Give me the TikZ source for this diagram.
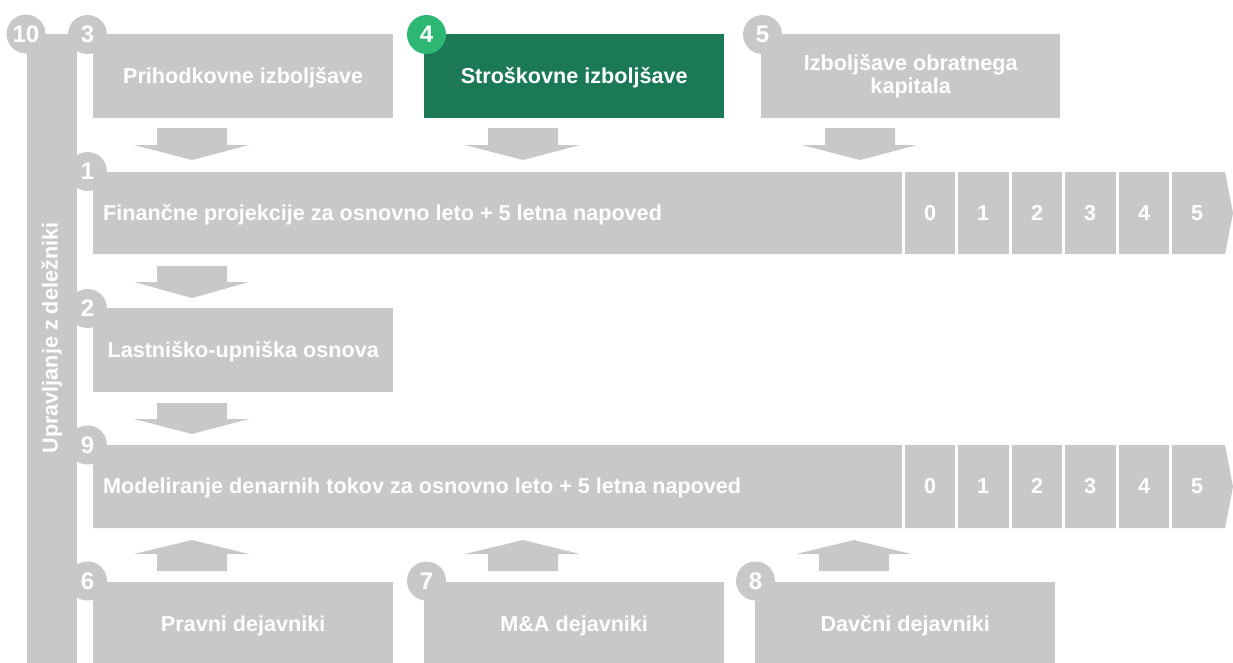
\documentclass[tikz,border=0pt]{standalone}
\usepackage{fontspec}
\setmainfont{Liberation Sans}
\definecolor{boxgray}{RGB}{200,200,200}
\definecolor{dkgreen}{RGB}{27,122,85}
\definecolor{ltgreen}{RGB}{44,184,114}
\newcommand\lblfont{\fontsize{21.6}{23}\selectfont\bfseries}
\newcommand\badgefont{\fontsize{24}{26}\selectfont\bfseries}
\newcommand\blkdown[4]{\fill[boxgray] (#1,#2) -- (#1+70,#2) -- (#1+70,#3) -- (#1+92,#3) -- (#1+35,#4) -- (#1-23,#3) -- (#1,#3) -- cycle;}
\begin{document}
\begin{tikzpicture}[x=1pt,y=-1pt,
  boxbase/.style={fill=boxgray, inner sep=0pt, minimum width=300pt, minimum height=84pt,
    anchor=north west, text=white, font=\lblfont, align=center},
  box/.style={boxbase, text height=16pt, text depth=2pt},
  badge/.style={circle, fill=boxgray, minimum size=39pt, inner sep=0pt, text=white, font=\badgefont},
  rowtext/.style={anchor=base west, inner sep=0pt, text=white, font=\lblfont},
  digit/.style={anchor=base, inner sep=0pt, text=white, font=\lblfont},
  divider/.style={white, line width=3pt}]
\useasboundingbox (0,0) rectangle (1233,662);
\fill[white] (0,0) rectangle (1233,662);
% column 10
\node[fill=boxgray, inner sep=0pt, minimum width=50pt, minimum height=630pt, anchor=north west] (b10) at (27,34) {};
\node[rotate=90, text=white, font=\lblfont, inner sep=0pt, anchor=base] (t10) at (57.5,338) {Upravljanje z deležniki};
% top boxes
\node[box] (b3) at (93,34) {Prihodkovne izboljšave};
\node[box, fill=dkgreen] (b4) at (424,34) {Stroškovne izboljšave};
\node[boxbase, minimum width=299pt] (b5) at (761,34) {Izboljšave obratnega\\kapitala};
% arrows below top boxes
\blkdown{157}{128}{145}{160}
\blkdown{488}{128}{145}{160}
\blkdown{825}{128}{145}{160}
% row 1
\fill[boxgray] (93,172) -- (1225,172) -- (1233,213) -- (1225,254) -- (93,254) -- cycle;
\foreach \x in {903.5,956.5,1010,1063.5,1117,1170.5} \draw[divider] (\x,172) -- (\x,254);
\node[rowtext] (r1) at (103,220) {Finančne projekcije za osnovno leto + 5 letna napoved};
\foreach \d/\x in {0/930,1/983,2/1037,3/1090,4/1144,5/1197} \node[digit] (r1y\d) at (\x,220) {\d};
% arrow below row 1
\blkdown{157}{266}{282}{298}
% box 2
\node[box] (b2) at (93,308) {Lastniško-upniška osnova};
\blkdown{157}{403}{419}{434}
% row 9
\fill[boxgray] (93,445) -- (1225,445) -- (1233,486.5) -- (1225,528) -- (93,528) -- cycle;
\foreach \x in {903.5,956.5,1010,1063.5,1117,1170.5} \draw[divider] (\x,445) -- (\x,528);
\node[rowtext] (r9) at (103,493.5) {Modeliranje denarnih tokov za osnovno leto + 5 letna napoved};
\foreach \d/\x in {0/930,1/983,2/1037,3/1090,4/1144,5/1197} \node[digit] (r9y\d) at (\x,493.5) {\d};
% up arrows
\blkdown{157}{571}{554}{540}
\blkdown{488}{571}{554}{540}
\blkdown{819}{571}{554}{540}
% bottom boxes
\node[box] (b6) at (93,582) {Pravni dejavniki};
\node[box] (b7) at (424,582) {M\&A dejavniki};
\node[box] (b8) at (755,582) {Davčni dejavniki};
% badges
\node[badge] (c10) at (26,34) {10};
\node[badge] (c3) at (87.5,34.5) {3};
\node[badge, fill=ltgreen] (c4) at (426.5,34.5) {4};
\node[badge] (c5) at (762.5,34.5) {5};
\node[badge] (c1) at (87.5,171.5) {1};
\node[badge] (c2) at (87.5,308.5) {2};
\node[badge] (c9) at (87.5,445) {9};
\node[badge] (c6) at (87.5,581) {6};
\node[badge] (c7) at (426.5,581) {7};
\node[badge] (c8) at (755.5,581) {8};
\end{tikzpicture}
\end{document}
